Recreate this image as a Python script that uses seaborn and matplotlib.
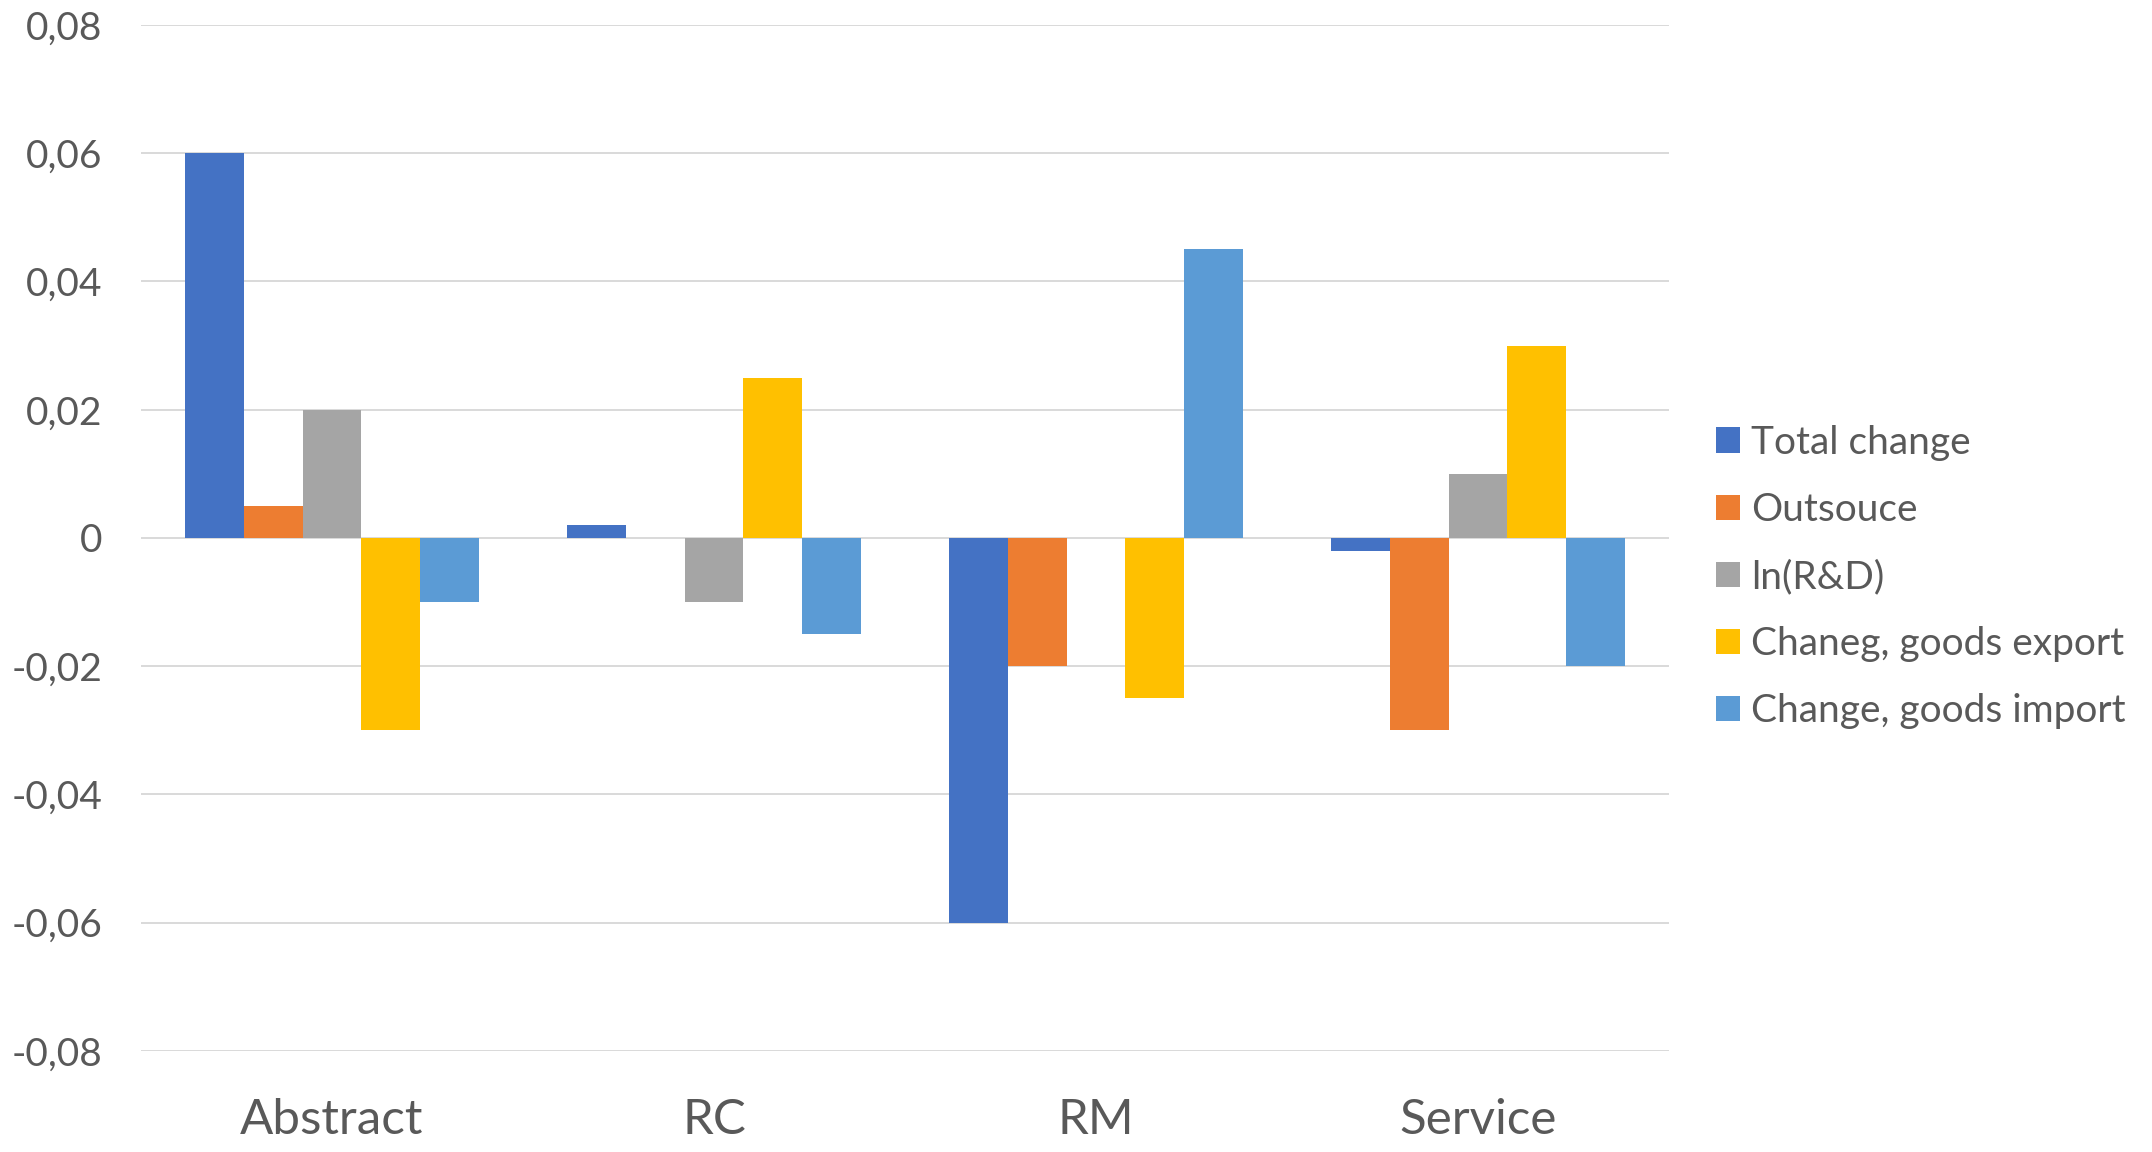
import matplotlib
matplotlib.use("Agg")
import matplotlib.pyplot as plt
from matplotlib.ticker import FuncFormatter, MultipleLocator
import seaborn as sns
import pandas as pd

# Chart data
categories = ["Abstract", "RC", "RM", "Service"]
series = ["Total change", "Outsouce", "ln(R&D)", "Chaneg, goods export", "Change, goods import"]
total_change = [0.060, 0.002, -0.060, -0.002]
outsource = [0.005, 0.000, -0.020, -0.030]
ln_rd = [0.020, -0.010, 0.000, 0.010]
goods_export = [-0.030, 0.025, -0.025, 0.030]
goods_import = [-0.010, -0.015, 0.045, -0.020]
colors = ["#4472C4", "#ED7D31", "#A5A5A5", "#FFC000", "#5B9BD5"]

values = [total_change, outsource, ln_rd, goods_export, goods_import]
rows = []
for name, vals in zip(series, values):
    for cat, v in zip(categories, vals):
        rows.append({"category": cat, "series": name, "value": v})
df = pd.DataFrame(rows)

sns.set_theme(style="white")
plt.rcParams["font.family"] = ["Lato", "DejaVu Sans"]
text_color = "#595959"

fig = plt.figure(figsize=(21.52, 11.52), dpi=100)
ax = fig.add_axes([0.0655, 0.0877, 0.7101, 0.8906])

sns.barplot(data=df, x="category", y="value", hue="series",
            order=categories, hue_order=series,
            palette=dict(zip(series, colors)), saturation=1,
            width=0.77, linewidth=0, errorbar=None, ax=ax, zorder=3)

ax.set_ylim(-0.08, 0.08)
ax.set_xlim(-0.5, 3.5)
ax.yaxis.set_major_locator(MultipleLocator(0.02))
ax.yaxis.set_major_formatter(FuncFormatter(
    lambda v, p: "0" if abs(v) < 1e-9 else f"{v:.2f}".replace(".", ",")))
ax.grid(axis="y", color="#D9D9D9", linewidth=1.4, zorder=0)
ax.grid(axis="x", visible=False)
ax.set_axisbelow(True)
for s in ax.spines.values():
    s.set_visible(False)
ax.set_xlabel("")
ax.set_ylabel("")
ax.tick_params(axis="y", length=0, pad=28, labelsize=28, labelcolor=text_color)
ax.tick_params(axis="x", length=0, pad=34, labelsize=35.5, labelcolor=text_color)

handles, labels = ax.get_legend_handles_labels()
ax.legend(handles, labels, loc="center left",
          bbox_to_anchor=(1716 / 2152, 1 - 577 / 1152),
          bbox_transform=fig.transFigure, frameon=False,
          fontsize=28, labelcolor=text_color,
          handlelength=0.62, handleheight=0.62, handletextpad=0.28,
          labelspacing=0.8, borderpad=0, borderaxespad=0)

fig.savefig("out.png", dpi=100)
